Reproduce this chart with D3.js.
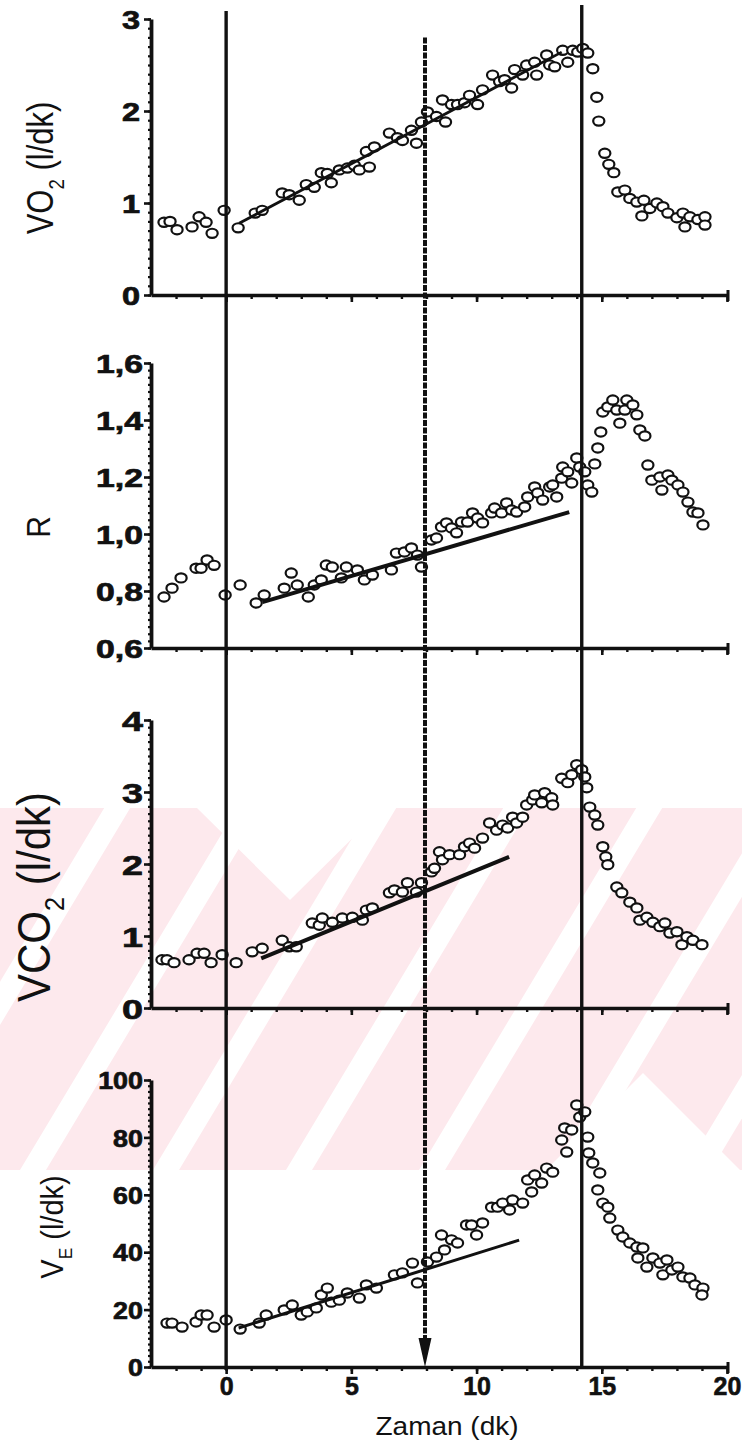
<!DOCTYPE html>
<html><head><meta charset="utf-8">
<script src="https://cdn.jsdelivr.net/npm/d3@7"></script>
<style>body{margin:0;background:#fff} svg{display:block}</style>
</head><body>
<svg id="c" width="742" height="1454"></svg>
<script>
// ---- data (time in min, value) ----
const vo2Points = [[-2.48,0.79],[-2.24,0.80],[-1.96,0.71],[-1.36,0.74],[-1.08,0.85],[-0.8,0.79],[-0.56,0.67],[-0.08,0.92],[0.48,0.73],[1.16,0.89],[1.44,0.92],[2.24,1.11],[2.52,1.09],[2.92,1.03],[3.2,1.2],[3.52,1.17],[3.8,1.33],[4.04,1.32],[4.2,1.22],[4.52,1.36],[4.84,1.38],[5.12,1.41],[5.32,1.36],[5.6,1.56],[5.72,1.39],[5.92,1.61],[6.52,1.76],[6.84,1.71],[7.04,1.68],[7.4,1.79],[7.6,1.65],[7.8,1.88],[8.04,1.99],[8.4,1.94],[8.76,1.88],[8.64,2.12],[9.0,2.07],[9.24,2.07],[9.52,2.09],[9.72,2.17],[10.04,2.07],[10.24,2.23],[10.64,2.39],[10.92,2.32],[11.12,2.34],[11.4,2.25],[11.52,2.45],[11.84,2.39],[12.0,2.5],[12.32,2.53],[12.4,2.39],[12.8,2.61],[12.92,2.5],[13.12,2.48],[13.44,2.66],[13.64,2.53],[13.84,2.66],[14.04,2.64],[14.24,2.68],[14.44,2.63],[14.64,2.46],[14.8,2.15],[14.88,1.89],[15.12,1.54],[15.28,1.42],[15.48,1.33],[15.64,1.12],[15.92,1.14],[16.12,1.05],[16.4,1.01],[16.6,0.86],[16.68,1.03],[16.92,0.94],[17.2,1.0],[17.44,0.96],[17.64,0.89],[18.0,0.84],[18.24,0.89],[18.32,0.74],[18.52,0.85],[18.84,0.82],[19.12,0.85],[19.12,0.76]];
const rPoints = [[-2.48,0.779],[-2.16,0.81],[-1.8,0.846],[-1.2,0.88],[-1.0,0.88],[-0.76,0.909],[-0.48,0.89],[-0.04,0.786],[0.56,0.821],[1.2,0.758],[1.52,0.786],[2.32,0.81],[2.6,0.863],[2.84,0.821],[3.28,0.779],[3.52,0.821],[3.8,0.839],[4.0,0.891],[4.24,0.884],[4.8,0.884],[4.6,0.846],[5.24,0.874],[5.52,0.839],[5.84,0.856],[6.6,0.874],[6.8,0.933],[7.12,0.937],[7.4,0.951],[7.8,0.884],[7.64,0.926],[8.2,0.979],[8.4,0.986],[8.6,1.025],[8.8,1.039],[9.0,1.021],[9.2,1.004],[9.4,1.042],[9.64,1.042],[9.84,1.074],[10.04,1.056],[10.24,1.039],[10.6,1.074],[10.72,1.091],[11.0,1.074],[11.2,1.109],[11.4,1.084],[11.6,1.077],[11.92,1.095],[12.04,1.13],[12.32,1.165],[12.44,1.144],[12.64,1.119],[12.92,1.165],[13.04,1.172],[13.2,1.13],[13.4,1.196],[13.44,1.235],[13.64,1.218],[13.8,1.179],[14.0,1.267],[14.12,1.235],[14.32,1.218],[14.44,1.172],[14.6,1.147],[14.72,1.246],[14.84,1.302],[14.96,1.358],[15.04,1.428],[15.24,1.446],[15.44,1.47],[15.6,1.435],[15.72,1.389],[15.92,1.435],[16.0,1.47],[16.24,1.453],[16.4,1.418],[16.52,1.365],[16.72,1.344],[16.84,1.242],[17.0,1.189],[17.32,1.2],[17.4,1.154],[17.64,1.207],[17.8,1.189],[18.04,1.172],[18.24,1.147],[18.44,1.112],[18.64,1.077],[18.84,1.074],[19.04,1.032]];
const vco2Points = [[-2.56,0.67],[-2.36,0.67],[-2.08,0.63],[-1.48,0.67],[-1.16,0.76],[-0.88,0.76],[-0.6,0.63],[-0.16,0.74],[0.4,0.63],[1.04,0.78],[1.44,0.83],[2.24,0.94],[2.52,0.85],[2.8,0.85],[3.44,1.18],[3.72,1.15],[3.84,1.25],[4.24,1.19],[4.64,1.25],[5.04,1.26],[5.44,1.22],[5.6,1.36],[5.84,1.39],[6.52,1.6],[6.72,1.64],[7.04,1.61],[7.24,1.74],[7.6,1.61],[7.8,1.74],[8.2,1.89],[8.32,1.94],[8.52,2.17],[8.64,2.06],[8.92,2.13],[9.32,2.13],[9.52,2.24],[9.72,2.29],[9.92,2.22],[10.24,2.36],[10.52,2.57],[10.8,2.47],[11.04,2.54],[11.24,2.5],[11.44,2.65],[11.6,2.57],[11.84,2.65],[12.0,2.82],[12.24,2.89],[12.32,2.96],[12.6,2.85],[12.72,2.99],[13.0,2.92],[13.04,2.82],[13.4,3.19],[13.64,3.13],[13.8,3.24],[14.0,3.38],[14.2,3.31],[14.32,3.21],[14.4,3.06],[14.52,2.79],[14.72,2.68],[14.84,2.54],[15.04,2.24],[15.16,2.1],[15.24,1.99],[15.6,1.68],[15.8,1.6],[16.12,1.47],[16.4,1.39],[16.52,1.22],[16.8,1.26],[17.04,1.19],[17.32,1.13],[17.52,1.18],[17.72,1.04],[18.0,1.06],[18.2,0.88],[18.4,0.99],[18.64,0.94],[19.0,0.88]];
const vePoints = [[-2.36,15.3],[-2.16,15.3],[-1.76,13.9],[-1.2,15.7],[-1.0,18.1],[-0.76,18.1],[-0.48,13.9],[0.0,16.4],[0.56,13.2],[1.32,15.3],[1.6,18.1],[2.32,19.9],[2.64,21.6],[3.0,18.1],[3.24,19.2],[3.6,20.6],[3.8,25.1],[4.04,27.5],[4.2,22.6],[4.52,23.3],[4.84,25.8],[5.32,24.0],[5.6,28.6],[6.0,27.5],[6.72,32.1],[7.04,32.8],[7.44,36.2],[7.64,29.3],[8.04,36.6],[8.4,38.3],[8.72,40.8],[8.6,46.0],[9.0,44.3],[9.24,43.2],[9.6,49.5],[9.8,49.5],[10.0,46.0],[10.24,50.2],[10.6,55.7],[10.84,55.7],[11.04,57.1],[11.32,54.7],[11.44,58.2],[11.84,57.1],[12.2,61.0],[12.04,65.2],[12.32,66.9],[12.6,64.1],[12.8,69.3],[13.04,67.9],[13.4,79.1],[13.6,74.9],[13.52,83.3],[13.8,82.6],[14.0,91.3],[14.12,87.1],[14.32,88.9],[14.44,80.1],[14.48,74.6],[14.64,71.1],[14.92,67.6],[14.84,61.7],[15.04,57.1],[15.24,55.7],[15.32,51.9],[15.64,47.7],[15.84,45.3],[16.12,43.2],[16.4,41.8],[16.64,41.5],[16.44,38.0],[16.8,34.8],[17.04,38.0],[17.32,36.2],[17.6,37.3],[17.44,32.1],[17.8,33.8],[18.04,34.8],[18.24,31.4],[18.52,31.0],[18.72,28.6],[19.04,27.5],[19.0,25.1]];
// fitted regression lines (start, end)
const vo2Fit = [[0.52,0.78],[13.4,2.64]];
const rFit = [[1.45,0.761],[13.7,1.077]];
const vco2Fit = [[1.4,0.69],[11.3,2.1]];
const veFit = [[0.5,13.6],[11.7,44.2]];
// vertical markers (min)
const solidMarkers = [0, 14.2];
const thresholdTime = 7.95;
// ticks
const xMajorTicks = [0,5,10,15,20];
const vo2Ticks = [0,1,2,3];
const rTicks = [0.6,0.8,1.0,1.2,1.4,1.6];
const vco2Ticks = [0,1,2,3,4];
const veTicks = [0,20,40,60,80,100];

const svg = d3.select('#c');
const FONT = "'Liberation Sans', Arial, Helvetica, sans-serif";
const x = d3.scaleLinear().domain([-3,20]).range([151,727]);

// ---- watermark (pale pink, decorative background) ----
const wm = svg.append('g');
const wTop = 808, wBot = 1170, PINK = '#fde9ed';
wm.append('rect').attr('x',0).attr('y',wTop).attr('width',742).attr('height',wBot-wTop).attr('fill',PINK);
const slope = 0.6, P = 133, sw = 26;
const poly = pts => pts.map(p=>p.join(',')).join(' ');
for (let k=-3;k<7;k++){
  const x0 = 20 + k*P;
  const dx = slope*(wBot-wTop);
  wm.append('polygon').attr('points',poly([[x0,wBot],[x0+sw,wBot],[x0+sw+dx,wTop],[x0+dx,wTop]])).attr('fill','#fff');
}
wm.append('polygon').attr('points',poly([[197,wTop],[383,wTop],[290,900]])).attr('fill','#fff');
wm.append('polygon').attr('points',poly([[546,wBot],[742,wBot],[742,1172],[643,1073]])).attr('fill','#fff');

const panels = [
  {data:vo2Points, fit:vo2Fit, fitW:2.8, domain:[0,3], range:[295,19], ticks:vo2Ticks, minor:0.1, fmt:d=>String(d), fs:25, sx:1.3, off:-11},
  {data:rPoints, fit:rFit, fitW:4, domain:[0.6,1.6], range:[648,363], ticks:rTicks, minor:0.025, fmt:d=>d.toFixed(1).replace('.',','), fs:25, sx:1.35, off:-8},
  {data:vco2Points, fit:vco2Fit, fitW:4, domain:[0,4], range:[1008,720], ticks:vco2Ticks, minor:0.1, fmt:d=>String(d), fs:28, sx:1.35, off:-8},
  {data:vePoints, fit:veFit, fitW:3, domain:[0,100], range:[1367,1080], ticks:veTicks, minor:2, fmt:d=>String(d), fs:24, sx:1.12, off:-8}
];
panels.forEach(p => { p.y = d3.scaleLinear().domain(p.domain).range(p.range); });

const axG = svg.append('g');
panels.forEach((p,i) => {
  const y = p.y;
  const minorVals = d3.range(p.domain[0], p.domain[1]+1e-9, p.minor);
  axG.append('g').attr('transform',`translate(${x(-3)},0)`)
    .call(d3.axisLeft(y).tickValues(minorVals).tickSize(3).tickSizeOuter(0).tickFormat(''))
    .call(g=>g.select('.domain').remove())
    .selectAll('line').attr('stroke','#111').attr('stroke-width',2.2);
  const ga = axG.append('g').attr('transform',`translate(${x(-3)},0)`)
    .call(d3.axisLeft(y).tickValues(p.ticks).tickSize(7).tickSizeOuter(0).tickFormat(p.fmt));
  ga.select('.domain').attr('stroke','#111').attr('stroke-width',3.8);
  ga.selectAll('line').attr('stroke','#111').attr('stroke-width',2.6);
  ga.selectAll('text').attr('x',0).attr('dy','0.36em')
    .attr('transform',`translate(${p.off},0) scale(${p.sx},1)`)
    .attr('font-family',FONT).attr('font-weight','bold').attr('font-size',p.fs)
    .attr('fill','#111').attr('stroke','#111').attr('stroke-width',0.7);
  const base = p.range[0];
  axG.append('g').attr('transform',`translate(0,${base})`)
    .call(d3.axisBottom(x).tickValues(d3.range(-2,20,1)).tickSize(4).tickSizeOuter(0).tickFormat(''))
    .call(g=>g.select('.domain').remove())
    .selectAll('line').attr('stroke','#111').attr('stroke-width',2.4);
  const gx = axG.append('g').attr('transform',`translate(0,${base})`)
    .call(d3.axisBottom(x).tickValues(xMajorTicks).tickSize(7).tickSizeOuter(0)
      .tickFormat(i===3 ? d=>String(d) : ''));
  gx.select('.domain').attr('stroke','#111').attr('stroke-width',3.6);
  gx.selectAll('line').attr('stroke','#111').attr('stroke-width',2.6);
  gx.selectAll('text').attr('y',28).attr('dy',0)
    .attr('font-family',FONT).attr('font-weight','bold').attr('font-size',25)
    .attr('fill','#111').attr('stroke','#111').attr('stroke-width',0.6);
  gx.append('line').attr('x1',x(20)+1).attr('x2',x(20)+1).attr('y1',-5).attr('y2',6).attr('stroke','#111').attr('stroke-width',3);
});

// ---- points ----
panels.forEach(p => {
  svg.append('g').selectAll('ellipse').data(p.data).join('ellipse')
    .attr('cx',d=>x(d[0])).attr('cy',d=>p.y(d[1]))
    .attr('rx',5.6).attr('ry',4.6)
    .attr('fill','#fff').attr('stroke','#111').attr('stroke-width',2.2);
});

// ---- regression lines ----
panels.forEach(p => {
  svg.append('path').attr('d', d3.line().x(d=>x(d[0])).y(d=>p.y(d[1]))(p.fit))
    .attr('stroke','#111').attr('stroke-width',p.fitW).attr('fill','none');
});

// ---- vertical lines ----
const topP = panels[0], botP = panels[3];
svg.append('line').attr('x1',x(solidMarkers[0])).attr('x2',x(solidMarkers[0]))
  .attr('y1',topP.y(3)-8).attr('y2',botP.y(0)+3).attr('stroke','#111').attr('stroke-width',3.4);
svg.append('line').attr('x1',x(solidMarkers[1])).attr('x2',x(solidMarkers[1]))
  .attr('y1',topP.y(3)-14).attr('y2',botP.y(0)+2).attr('stroke','#111').attr('stroke-width',3.4);
const tx = Math.round(x(thresholdTime));
svg.append('line').attr('x1',tx).attr('x2',tx)
  .attr('y1',topP.y(2.8)).attr('y2',botP.y(0)-26).attr('stroke','#111').attr('stroke-width',4)
  .attr('stroke-dasharray','6,1.5');
svg.append('path').attr('d',`M${tx-6.5},${botP.y(0)-29} L${tx+6.5},${botP.y(0)-29} L${tx},${botP.y(0)} Z`).attr('fill','#111');

// ---- axis titles ----
function rotLabel(bx, cy, fs, sx, parts){
  const t = svg.append('text').attr('transform',`translate(${bx},${cy}) scale(${sx},1) rotate(-90)`)
    .attr('text-anchor','middle').attr('font-family',FONT).attr('font-size',fs).attr('fill','#111');
  parts.forEach(pt => {
    const s = t.append('tspan').text(pt.t);
    if (pt.sub) s.attr('font-size',fs*0.6).attr('dy',fs*0.3);
    if (pt.after) s.attr('dy',-fs*0.3);
  });
}
rotLabel(53,168,31,1.2,[{t:'VO'},{t:'2',sub:true},{t:' (l/dk)',after:true}]);
rotLabel(50,527,30,1.1,[{t:'R'}]);
rotLabel(50,897,42,1.12,[{t:'VCO'},{t:'2',sub:true},{t:' (l/dk)',after:true}]);
rotLabel(63,1227,29,1.08,[{t:'V'},{t:'E',sub:true},{t:' (l/dk)',after:true}]);

svg.append('text').attr('transform',`translate(447,1435) scale(1.12,1)`).attr('text-anchor','middle')
  .attr('font-family',FONT).attr('font-size',25).attr('fill','#111').text('Zaman (dk)');
</script>
</body></html>
